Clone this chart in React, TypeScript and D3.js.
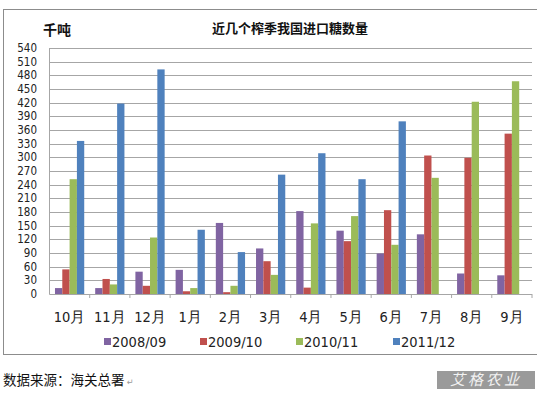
import React from "react";
import * as d3 from "d3";

const months = ["10月", "11月", "12月", "1月", "2月", "3月", "4月", "5月", "6月", "7月", "8月", "9月"];
const seriesNames = ["2008/09", "2009/10", "2010/11", "2011/12"];
const s0809 = [13, 13, 49, 53, 156, 100, 182, 139, 89, 131, 45, 41];
const s0910 = [54, 33, 18, 6, 4, 72, 14, 116, 184, 304, 299, 352];
const s1011 = [252, 21, 124, 13, 18, 42, 155, 171, 108, 255, 422, 467];
const s1112 = [336, 418, 493, 141, 92, 262, 309, 252, 379, null, null, null];
const colors = ["#8064A2", "#C0504D", "#9BBB59", "#4F81BD"];
const yTicks = d3.range(0, 541, 30);

const W = 537;
const H = 393;
const M = { left: 49.5, right: 532, top: 48, bottom: 294 };

export default function App() {
  const allSeries = [s0809, s0910, s1011, s1112];
  const x0 = d3.scaleBand<string>().domain(months).range([M.left, M.right]).paddingInner(0).paddingOuter(0);
  const groupW = x0.bandwidth();
  const barW = groupW / 5.5;
  const x1 = d3.scaleBand<string>().domain(seriesNames).range([barW * 0.75, barW * 4.75]).padding(0);
  const y = d3.scaleLinear().domain([0, 540]).range([M.bottom, M.top]);
  const font = "'Liberation Sans Narrow', 'DejaVu Sans Condensed', 'Liberation Sans', sans-serif";
  const cjk = "'Noto Sans CJK SC', sans-serif";
  const legendX = [104, 200, 296, 393];

  return (
    <svg width={W} height={H} style={{ position: "absolute", left: 0, top: 0, background: "#fff" }}>
      <rect x={0} y={0} width={W} height={H} fill="#fff" />
      {/* frame */}
      <rect x={3.5} y={9.5} width={540} height={345} fill="none" stroke="#8c8c8c" strokeWidth={1} />
      {/* gridlines */}
      {yTicks.map((t) => (
        <line key={t} x1={M.left} x2={M.right} y1={Math.round(y(t)) + 0.5} y2={Math.round(y(t)) + 0.5} stroke="#a6a6a6" strokeWidth={1.2} />
      ))}
      {/* axis */}
      <line x1={M.left} x2={M.left} y1={M.top} y2={M.bottom} stroke="#a6a6a6" />
      <line x1={M.left} x2={M.right} y1={Math.round(y(0)) + 0.5} y2={Math.round(y(0)) + 0.5} stroke="#a6a6a6" />
      {months.map((m) => (
        <line key={"tk" + m} x1={(x0(m) ?? 0) + groupW} x2={(x0(m) ?? 0) + groupW} y1={y(0)} y2={y(0) + 4} stroke="#a6a6a6" />
      ))}
      {/* bars */}
      {allSeries.map((s, si) =>
        s.map((v, i) =>
          v == null ? null : (
            <rect
              key={si + "-" + i}
              x={(x0(months[i]) ?? 0) + (x1(seriesNames[si]) ?? 0)}
              y={y(v)}
              width={x1.bandwidth()}
              height={y(0) - y(v)}
              fill={colors[si]}
            />
          )
        )
      )}
      {/* y labels */}
      {yTicks.map((t) => (
        <text key={"yl" + t} x={37} y={y(t)} dy="0.36em" textAnchor="end" fontFamily={font} fontSize={11.5} fill="#222">
          {t}
        </text>
      ))}
      {/* x labels */}
      {months.map((m) => (
        <text key={"xl" + m} x={(x0(m) ?? 0) + groupW / 2} y={317} dy="0.35em" textAnchor="middle" fontFamily={font} fontSize={14.5} fill="#222">
          {m}
        </text>
      ))}
      {/* legend */}
      {seriesNames.map((n, i) => (
        <g key={"lg" + n}>
          <rect x={legendX[i]} y={338} width={7} height={7} fill={colors[i]} />
          <text x={legendX[i] + 8} y={342} dy="0.35em" fontFamily={font} fontSize={14.5} fill="#222">
            {n}
          </text>
        </g>
      ))}
      {/* titles */}
      <text x={43} y={30} dy="0.35em" fontFamily={cjk} fontWeight="bold" fontSize={14} fill="#111">
        千吨
      </text>
      <text x={290} y={28} dy="0.35em" textAnchor="middle" fontFamily={cjk} fontWeight="bold" fontSize={13} fill="#111">
        近几个榨季我国进口糖数量
      </text>
      {/* footer */}
      <text x={3} y={380} dy="0.35em" fontFamily={cjk} fontSize={13.5} fill="#111">
        数据来源：海关总署
      </text>
      <text x={127} y={382} dy="0.35em" fontFamily={font} fontSize={9} fill="#999">
        ↵
      </text>
      {/* watermark */}
      <rect x={437} y={371} width={98} height={18} fill="#9a9a9a" />
      <text x={486} y={380} dy="0.35em" textAnchor="middle" fontFamily={cjk} fontStyle="italic" fontSize={15} fill="#f2f2f2" letterSpacing={3}>
        艾格农业
      </text>
    </svg>
  );
}
